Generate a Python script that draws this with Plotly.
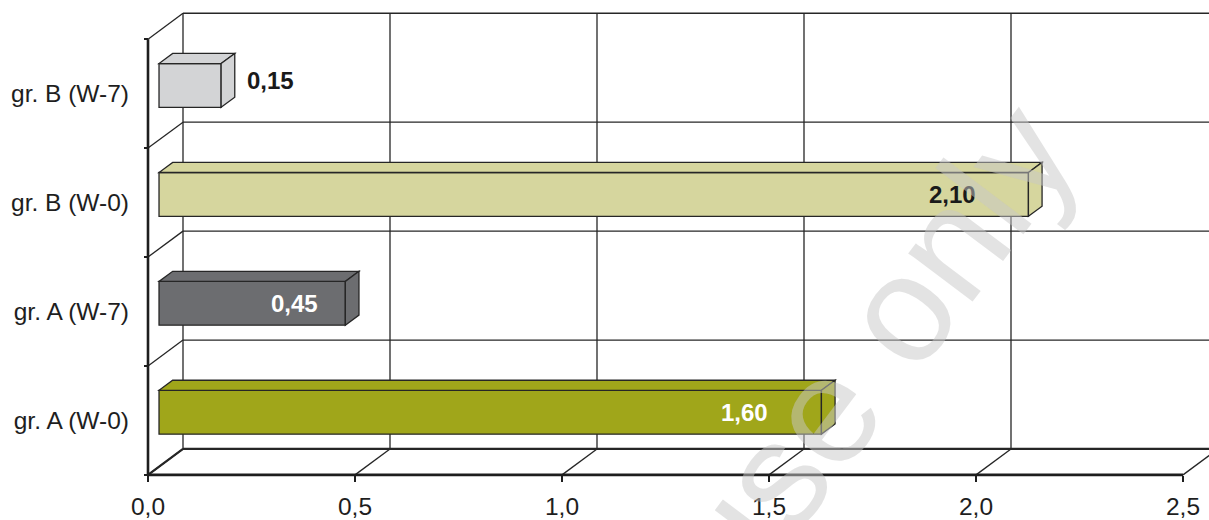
import plotly.graph_objects as go

# ---- data ---------------------------------------------------------------
categories = ["gr. A (W-0)", "gr. A (W-7)", "gr. B (W-0)", "gr. B (W-7)"]
values = [1.60, 0.45, 2.10, 0.15]
value_labels = ["1,60", "0,45", "2,10", "0,15"]
bar_colors = ["#A0A61A", "#6C6D70", "#D6D69E", "#D3D4D6"]
x_ticks = [0.0, 0.5, 1.0, 1.5, 2.0, 2.5]
x_tick_labels = ["0,0", "0,5", "1,0", "1,5", "2,0", "2,5"]

# value label styling: placement, colour, distance from bar end (px)
label_styles = [
    ("inside", "#FFFFFF", 51),
    ("inside", "#FFFFFF", 25),
    ("inside", "#1A1A1A", 50),
    ("outside", "#1A1A1A", 10),
]

# ---- 3-D frame geometry --------------------------------------------------
W, H = 1209, 520
X0_PX = 148.0          # pixel column of x = 0 on the front plane
PX_PER_X = 414.0       # pixels per x unit
FLOOR_PX = 476.7       # pixel row of the front floor edge (y = -0.5)
PX_PER_Y = 109.35      # pixels per category band
DEPTH_PX = (35.0, 26.0)

DX = DEPTH_PX[0] / PX_PER_X
DY = DEPTH_PX[1] / PX_PER_Y
X_RANGE = [-X0_PX / PX_PER_X, (W - X0_PX) / PX_PER_X]
Y_RANGE = [-0.5 - (H - FLOOR_PX) / PX_PER_Y, -0.5 + FLOOR_PX / PX_PER_Y]

FRONT_GAP = 0.315      # bar front face depth (fraction of full depth)
BAR_DEPTH = 0.39       # bar thickness in depth
BAR_HALF = 0.201       # half bar height in category units

n = len(categories)
bounds = [i - 0.5 for i in range(n + 1)]
x_end = X_RANGE[1] + 0.2

LINE = "#262626"


def pt(x, y, d):
    """Project a point (x, y) at depth fraction d into axis coordinates."""
    return x + d * DX, y + d * DY


def seg(p, q, width=1.3, color=LINE):
    return dict(type="line", xref="x", yref="y", x0=p[0], y0=p[1], x1=q[0], y1=q[1],
                line=dict(color=color, width=width))


def poly(points, fill):
    path = "M " + " L ".join(f"{x:.5f},{y:.5f}" for x, y in points) + " Z"
    return dict(type="path", xref="x", yref="y", path=path, fillcolor=fill,
                line=dict(color=LINE, width=1.3))


shapes = []

# back wall: horizontal grid lines
for k, b in enumerate(bounds):
    p = pt(0, b, 1)
    shapes.append(seg(p, (x_end, p[1]), width=2.2 if k == 0 else 1.3))
# back wall: vertical grid lines
for t in x_ticks:
    shapes.append(seg(pt(t, bounds[0], 1), pt(t, bounds[-1], 1), width=1.3))
# side wall diagonals
for b in bounds:
    shapes.append(seg(pt(0, b, 0), pt(0, b, 1), width=1.3))
# floor diagonals
for k, t in enumerate(x_ticks):
    shapes.append(seg(pt(t, bounds[0], 0), pt(t, bounds[0], 1), width=2.2 if k == 0 else 1.3))
# front axes
shapes.append(seg(pt(0, bounds[0], 0), pt(0, bounds[-1], 0), width=2.6, color="#1E1E1E"))
shapes.append(seg(pt(0, bounds[0], 0), pt(x_ticks[-1], bounds[0], 0), width=2.6, color="#1E1E1E"))

# bars as boxes: front face, top face, right side face
fb = FRONT_GAP + BAR_DEPTH
for i, (v, c) in enumerate(zip(values, bar_colors)):
    y0, y1 = i - BAR_HALF, i + BAR_HALF
    shapes.append(poly([pt(0, y0, FRONT_GAP), pt(v, y0, FRONT_GAP),
                        pt(v, y1, FRONT_GAP), pt(0, y1, FRONT_GAP)], c))
    shapes.append(poly([pt(0, y1, FRONT_GAP), pt(v, y1, FRONT_GAP),
                        pt(v, y1, fb), pt(0, y1, fb)], c))
    shapes.append(poly([pt(v, y0, FRONT_GAP), pt(v, y0, fb),
                        pt(v, y1, fb), pt(v, y1, FRONT_GAP)], c))

FONT = "Liberation Sans, Arial, sans-serif"
FS = 24.5

annotations = []
for i, (v, txt, (place, col, gap)) in enumerate(zip(values, value_labels, label_styles)):
    if place == "inside":
        x, y = pt(v, i, FRONT_GAP)
        annotations.append(dict(x=x, y=y, xref="x", yref="y", text=f"<b>{txt}</b>",
                                showarrow=False, xanchor="right", yanchor="middle",
                                xshift=-gap, font=dict(family=FONT, size=24, color=col)))
    else:
        x, y = pt(v, i, fb)
        _, yc = pt(v, i, FRONT_GAP + BAR_DEPTH / 2)
        annotations.append(dict(x=x, y=yc, xref="x", yref="y", text=f"<b>{txt}</b>",
                                showarrow=False, xanchor="left", yanchor="middle",
                                xshift=gap, font=dict(family=FONT, size=24, color=col)))

# watermark
annotations.append(dict(x=1.745, y=0.66, xref="x", yref="y", text="use only",
                        showarrow=False, textangle=-53, xanchor="center", yanchor="middle",
                        font=dict(family=FONT, size=152, color="rgba(200,200,200,0.5)")))

fig = go.Figure()
fig.add_trace(go.Scatter(x=[None], y=[None], showlegend=False, hoverinfo="skip"))

fig.update_layout(
    width=W, height=H,
    margin=dict(l=0, r=0, t=0, b=0),
    paper_bgcolor="white", plot_bgcolor="white",
    showlegend=False,
    shapes=shapes,
    annotations=annotations,
    xaxis=dict(
        range=X_RANGE, anchor="free", position=(H - FLOOR_PX) / H,
        tickvals=x_ticks, ticktext=x_tick_labels,
        ticks="outside", ticklen=6, tickwidth=2, tickcolor="#1E1E1E",
        ticklabelstandoff=4,
        showgrid=False, zeroline=False, showline=False,
        tickfont=dict(family=FONT, size=FS, color="#1E1E1E"),
        fixedrange=True,
    ),
    yaxis=dict(
        range=Y_RANGE, anchor="free", position=X0_PX / W,
        tickvals=list(range(n)), ticktext=categories,
        ticks="", ticklabelstandoff=19,
        minor=dict(tickvals=bounds, ticks="outside", ticklen=4, tickwidth=2, tickcolor="#1E1E1E"),
        showgrid=False, zeroline=False, showline=False,
        tickfont=dict(family=FONT, size=FS, color="#1E1E1E"),
        fixedrange=True,
    ),
)

fig.write_html("out.html")
